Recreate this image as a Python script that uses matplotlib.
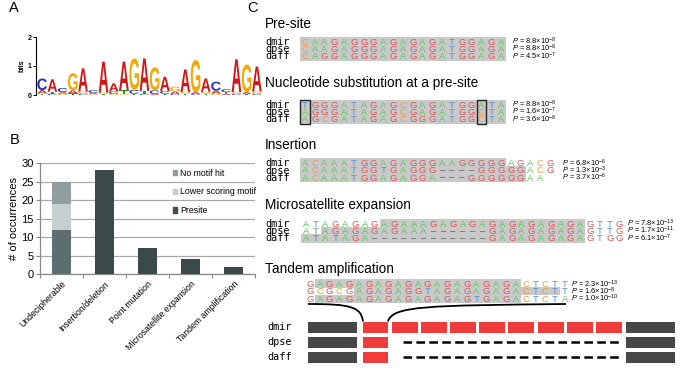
import matplotlib
matplotlib.use("Agg")
import matplotlib.pyplot as plt
from matplotlib.patches import Rectangle, PathPatch, Patch
from matplotlib.path import Path
from matplotlib.textpath import TextPath
from matplotlib.font_manager import FontProperties
from matplotlib.transforms import Affine2D
from matplotlib.lines import Line2D

plt.rcParams['font.family'] = ['Liberation Sans', 'DejaVu Sans']
plt.rcParams['mathtext.fontset'] = 'custom'
plt.rcParams['mathtext.rm'] = 'Liberation Sans'
plt.rcParams['mathtext.it'] = 'Liberation Sans:italic'
plt.rcParams['mathtext.bf'] = 'Liberation Sans:bold'
plt.rcParams['lines.scale_dashes'] = False

# ---------------- Panel A: sequence logo (bottom -> top per position) -------------
logo_letters = ["TAC", "CTA", "GAC", "TAG", "CGA", "GAC", "TGA", "GCA", "GTA", "TCG", "CTA",
                "ACG", "TCA", "CAG", "TGA", "CAG", "TGA", "GAC", "ATC", "CGA", "TAG", "CGA"]
logo_heights = [[0.05, 0.12, 0.40], [0.05, 0.06, 0.43], [0.04, 0.06, 0.14], [0.06, 0.10, 0.59],
                [0.04, 0.08, 0.80], [0.03, 0.04, 0.10], [0.03, 0.05, 1.07], [0.04, 0.08, 0.28],
                [0.03, 0.13, 0.99], [0.04, 0.14, 1.08], [0.04, 0.10, 1.12], [0.04, 0.12, 0.79],
                [0.04, 0.10, 0.49], [0.04, 0.08, 0.17], [0.04, 0.06, 0.78], [0.03, 0.07, 1.10],
                [0.04, 0.07, 0.46], [0.05, 0.10, 0.31], [0.04, 0.06, 0.10], [0.04, 0.06, 1.13],
                [0.03, 0.07, 0.95], [0.04, 0.08, 0.86]]

# ---------------- Panel B: bar chart ----------------
categories = ["Undecipherable", "Insertion/deletion", "Point mutation",
              "Microsatellite expansion", "Tandem amplification"]
presite_counts = [12, 28, 7, 4, 2]
lower_scoring_counts = [7, 0, 0, 0, 0]
no_motif_counts = [6, 0, 0, 0, 0]
yticks_b = [0, 5, 10, 15, 20, 25, 30]

# ---------------- Panel C: alignments ----------------
species = ["dmir", "dpse", "daff"]
presite_seqs = ["CAAGAGGGAGAGAGATGGAGA", "CAAGAGGGAGAGAGATGGAGA", "CAGGAGGGAGAGAGATGGAGA"]
presite_pm = [8.8, 8.8, 4.5]
presite_pe = [-8, -8, -7]
subst_seqs = ["TGGGATAGAGCGAGATGGATA", "AGGGATAGAGCGAGATGGCTA", "AGCGATAGAGCGGGATGGCTA"]
subst_pm = [8.8, 1.6, 3.6]
subst_pe = [-8, -7, -8]
subst_cols = [0, 18]
insert_seqs = ["ACAAATGGAGAGGGAAGGGGGAGACG", "ACAAATGGTGAGGG----GGGGGACG", "ACAAATGGAGAGGA---GGGGGGAA"]
insert_pm = [6.8, 1.3, 3.7]
insert_pe = [-6, -3, -6]
micro_seqs = ["ATAGAGAGAGAAAGAGAGAGAGAGAGAGAGTTG",
              "ATAGAGAGAGAAA------GAGAGAGAGAGTTG",
              "ATATAGA------------GAGAGAGAGAGTGG"]
micro_pm = [7.8, 1.7, 6.1]
micro_pe = [-13, -11, -7]
tandem_seqs = ["GAGAGAGAGAGAGAGAGAGAGACTCTT", "GCGCGAGAGAGGTAGAGAGAGACTCTT", "GAGAGAGAGAGAGAGAGTGAGACTCTA"]
tandem_pm = [2.3, 1.6, 1.0]
tandem_pe = [-13, -8, -10]
repeat_blocks = [9, 1, 1]   # red repeat units per species

# ---------------- style ----------------
logo_colors = {"A": "#d01818", "C": "#2233cc", "G": "#f2a900", "T": "#1f9a2a"}
nt_colors = {"A": "#5cc95c", "C": "#ef9a45", "G": "#e05656", "T": "#5a8fd2", "-": "#555555"}
gray_bg = "#c9c9c9"

fig = plt.figure(figsize=(6.83, 3.75), dpi=100)
bg = fig.add_axes([0, 0, 1, 1])
bg.set_xlim(0, 683)
bg.set_ylim(375, 0)
bg.axis('off')

# panel letters
for lab, x, y in [("A", 14, 8), ("B", 15, 140), ("C", 252, 8)]:
    bg.text(x, y, lab, fontsize=10.5, ha='center', va='center')

# ---------------- Panel A ----------------
axA = fig.add_axes([36 / 683, (375 - 95) / 375, 226 / 683, 58 / 375])
axA.set_xlim(-0.1, len(logo_letters))
axA.set_ylim(0, 2)
fp = FontProperties(family='Liberation Sans', weight='bold')
for i, (letters, hs) in enumerate(zip(logo_letters, logo_heights)):
    base = 0.0
    for ch, h in zip(letters, hs):
        tp = TextPath((0, 0), ch, size=1, prop=fp)
        bb = tp.get_extents()
        tr = Affine2D().translate(-bb.x0, -bb.y0).scale(0.94 / bb.width, h / bb.height).translate(i + 0.03, base)
        axA.add_patch(PathPatch(tr.transform_path(tp), fc=logo_colors[ch], ec='none'))
        base += h
for s in ['top', 'right', 'bottom']:
    axA.spines[s].set_visible(False)
axA.spines['left'].set_linewidth(0.8)
axA.set_xticks([])
axA.set_yticks([0, 1, 2])
axA.set_yticklabels(["0", "1", "2"], fontsize=5, fontweight='bold')
axA.tick_params(axis='y', length=2, width=0.7, pad=1)
axA.set_ylabel("bits", fontsize=5, fontweight='bold', labelpad=2)
axA.patch.set_visible(False)

# ---------------- Panel B ----------------
axB = fig.add_axes([40 / 683, (375 - 274) / 375, 215 / 683, 111 / 375])
xs = list(range(len(categories)))
c_pres = ["#5c6e70", "#3c494b", "#3c494b", "#3c494b", "#3c494b"]
c_low = "#c5cfcf"
c_no = "#8f9e9f"
bw = 0.42
axB.bar(xs, presite_counts, width=bw, color=c_pres, zorder=3)
bott2 = [a for a in presite_counts]
axB.bar(xs, lower_scoring_counts, width=bw, bottom=bott2, color=c_low, zorder=3)
bott3 = [a + b for a, b in zip(presite_counts, lower_scoring_counts)]
axB.bar(xs, no_motif_counts, width=bw, bottom=bott3, color=c_no, zorder=3)
axB.set_xlim(-0.5, len(categories) - 0.5)
axB.set_ylim(0, 30)
axB.set_yticks(yticks_b)
axB.set_yticklabels([str(v) for v in yticks_b], fontsize=8)
axB.yaxis.grid(True, color="#a9a9a9", lw=0.9, zorder=0)
axB.set_axisbelow(True)
axB.set_xticks([k - 0.5 for k in range(len(categories) + 1)])
axB.set_xticklabels([])
axB.set_xticks(xs, minor=True)
axB.set_xticklabels(categories, minor=True, rotation=45, ha='right', rotation_mode='anchor', fontsize=6.3)
axB.tick_params(axis='x', which='minor', length=0, pad=4)
axB.tick_params(axis='x', which='major', length=3, color="#8a8a8a", width=0.8)
axB.tick_params(axis='y', length=3, color="#8a8a8a", width=0.8, pad=1.5)
for s in ['top', 'right']:
    axB.spines[s].set_visible(False)
for s in ['left', 'bottom']:
    axB.spines[s].set_color("#8a8a8a")
    axB.spines[s].set_linewidth(0.9)
axB.set_ylabel("# of occurrences", fontsize=8, labelpad=2)
handles = [Patch(color=c_no), Patch(color=c_low), Patch(color="#3f4d4f")]
axB.legend(handles, ["No motif hit", "Lower scoring motif", "Presite"], loc='upper left',
           bbox_to_anchor=(0.6, 0.98), frameon=False, fontsize=6.3, handlelength=0.55,
           handleheight=0.55, handletextpad=0.35, labelspacing=1.1, borderaxespad=0)
axB.patch.set_visible(False)

# ---------------- Panel C ----------------
DX = 9.8
RDY = 7.2
LBL_X = 265


def pval_text(m, e):
    return "$P$ = %.1f\u00d710$^{%d}$" % (m, e)


def draw_align(title, ty, y0, x0, seqs, pm, pe, px, gray, labels=True):
    bg.text(LBL_X, ty, title, fontsize=9.8, ha='left', va='center')
    n = len(seqs)
    for i, seq in enumerate(seqs):
        yc = y0 + i * RDY
        g0, g1 = gray[i]
        top = yc - RDY / 2 - (0.8 if i == 0 else 0) - 0.2
        bot = yc + RDY / 2 + (0.8 if i == n - 1 else 0) + 0.2
        bg.add_patch(Rectangle((x0 + g0 * DX - DX / 2, top), (g1 - g0 + 1) * DX, bot - top,
                               fc=gray_bg, ec='none', zorder=1))
        if labels:
            bg.text(LBL_X, yc + 0.3, species[i], family='DejaVu Sans Mono', fontsize=7.3,
                    ha='left', va='center', zorder=3)
        for j, ch in enumerate(seq):
            shown = "\u2013" if ch == "-" else ch
            bg.text(x0 + j * DX, yc + 3.2, shown, fontsize=6.8, color=nt_colors[ch],
                    ha='center', va='baseline', zorder=3)
        bg.text(px, yc, pval_text(pm[i], pe[i]), fontsize=5.4,
                ha='left', va='center', zorder=3)


draw_align("Pre-site", 24, 41.5, 305, presite_seqs, presite_pm, presite_pe, 512,
           [(0, 20)] * 3)
draw_align("Nucleotide substitution at a pre-site", 83, 104.5, 305, subst_seqs, subst_pm,
           subst_pe, 512, [(0, 20)] * 3)
for c in subst_cols:
    bg.add_patch(Rectangle((305 + c * DX - DX / 2, 104.5 - RDY / 2 - 1.2), DX, 3 * RDY + 2.4,
                           fc='none', ec='#222222', lw=1.0, zorder=4))
draw_align("Insertion", 145, 163, 305, insert_seqs, insert_pm, insert_pe, 562,
           [(0, 20), (0, 22), (0, 22)])
draw_align("Microsatellite expansion", 205, 223.5, 306, micro_seqs, micro_pm, micro_pe, 627,
           [(8, 28), (2, 28), (0, 28)])
draw_align("Tandem amplification", 269, 284, 310, tandem_seqs, tandem_pm, tandem_pe, 571,
           [(1, 21), (5, 25), (1, 21)], labels=False)

# block diagram
block_y = [327, 342, 357]
BH = 11
left_gray = (308, 357)
first_red = (363, 388)
RW, RGAP = 26, 3.1
right_gray = (626, 675)
dark = "#474747"
red = "#ef3b3b"
for i, sp in enumerate(species):
    yc = block_y[i]
    bg.text(267, yc, sp, family='DejaVu Sans Mono', fontsize=7.3, ha='left', va='center')
    bg.add_patch(Rectangle((left_gray[0], yc - BH / 2), left_gray[1] - left_gray[0], BH, fc=dark, ec='none'))
    bg.add_patch(Rectangle((right_gray[0], yc - BH / 2), right_gray[1] - right_gray[0], BH, fc=dark, ec='none'))
    bg.add_patch(Rectangle((first_red[0], yc - BH / 2), first_red[1] - first_red[0], BH, fc=red, ec='none'))
    if repeat_blocks[i] > 1:
        for k in range(repeat_blocks[i] - 1):
            xs0 = first_red[1] + 4 + k * (RW + RGAP)
            bg.add_patch(Rectangle((xs0, yc - BH / 2), RW, BH, fc=red, ec='none'))
    else:
        bg.add_line(Line2D([403, 618.5], [yc, yc], color='black', lw=1.8, dashes=(6.2, 3.1)))

# connecting curves
left_curve = Path([(308, 304), (350, 304), (361, 306.5), (363, 321.5)],
                  [Path.MOVETO, Path.CURVE4, Path.CURVE4, Path.CURVE4])
right_curve = Path([(566, 304), (430, 305.5), (392, 305.5), (388, 321.5)],
                   [Path.MOVETO, Path.CURVE4, Path.CURVE4, Path.CURVE4])
for p in (left_curve, right_curve):
    bg.add_patch(PathPatch(p, fc='none', ec='black', lw=1.3))

fig.savefig("out.png", dpi=100)
